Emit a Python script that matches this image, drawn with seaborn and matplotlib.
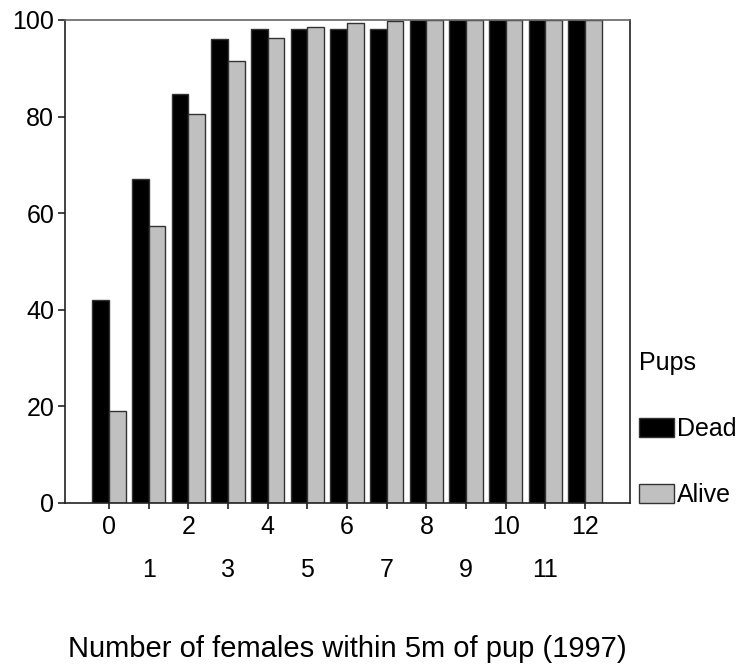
import pandas as pd
import seaborn as sns
import matplotlib.pyplot as plt
from matplotlib.ticker import FixedLocator

# females within 5m of pup (1997), cumulative % by pup status
females = list(range(13))
dead = [42, 67, 84.6, 96.1, 98.1, 98.2, 98.2, 98.2, 100, 100, 100, 100, 100]
alive = [19.1, 57.4, 80.6, 91.5, 96.3, 98.6, 99.3, 99.7, 100, 100, 100, 100, 100]

sns.set_style("white")
plt.rcParams["font.family"] = ["Liberation Sans", "DejaVu Sans"]
plt.rcParams["font.size"] = 18
for k in ["text.color", "axes.labelcolor", "xtick.labelcolor", "ytick.labelcolor"]:
    plt.rcParams[k] = "black"

df = pd.DataFrame({
    "females": females * 2,
    "pct": dead + alive,
    "Pups": ["Dead"] * 13 + ["Alive"] * 13,
})

fig = plt.figure(figsize=(7.5, 6.66), dpi=100)
ax = fig.add_axes([0.087, 0.245, 0.753, 0.725])

sns.barplot(data=df, x="females", y="pct", hue="Pups",
            palette={"Dead": "#000000", "Alive": "#c0c0c0"},
            width=0.84, edgecolor="#333333", linewidth=1.0,
            errorbar=None, ax=ax)

ax.set_xlim(-1.1, 13.13)
ax.set_ylim(0, 100)
ax.set_yticks([0, 20, 40, 60, 80, 100])
ax.set_ylabel("")
ax.set_xlabel("Number of females within 5m of pup (1997)", fontsize=21, labelpad=38)

# staggered tick labels: even on first row, odd on second
ax.xaxis.set_major_locator(FixedLocator([i for i in females if i % 2 == 0]))
ax.xaxis.set_minor_locator(FixedLocator([i for i in females if i % 2 == 1]))
ax.set_xticklabels([str(i) for i in females if i % 2 == 0])
ax.set_xticklabels([str(i) for i in females if i % 2 == 1], minor=True)
ax.tick_params(axis="x", which="major", length=4, width=1.2, pad=5, labelsize=18, color="#222222")
ax.tick_params(axis="x", which="minor", length=4, width=1.2, pad=36, labelsize=18, color="#222222")
ax.tick_params(axis="y", length=5, width=1.2, pad=3, labelsize=18, color="#222222", left=True)
ax.tick_params(axis="x", bottom=True, which="both")

for s in ["left", "bottom", "right"]:
    ax.spines[s].set_color("#222222")
    ax.spines[s].set_linewidth(1.2)
ax.spines["top"].set_color("#666666")
ax.spines["top"].set_linewidth(1.2)

ax.legend(title="Pups", loc="upper left", bbox_to_anchor=(0.998, 0.335),
          frameon=False, fontsize=18, title_fontsize=18,
          labelspacing=1.68, handlelength=1.4, handleheight=0.8,
          handletextpad=0.12, alignment="left", borderaxespad=0)

fig.savefig("out.png", dpi=100)
